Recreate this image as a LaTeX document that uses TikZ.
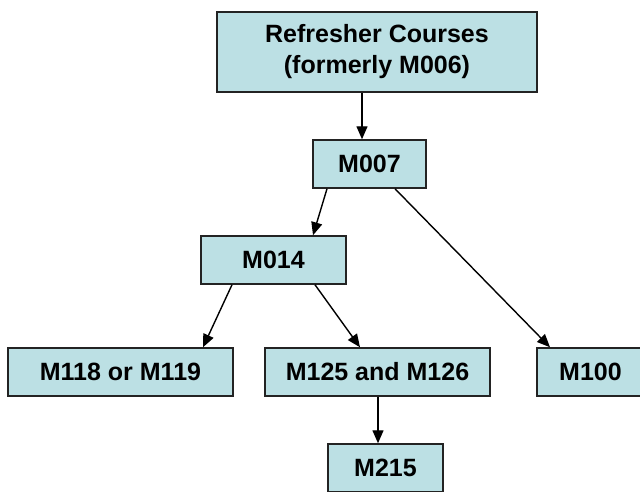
\documentclass[tikz,border=0pt]{standalone}
\usepackage{fontspec}
\setmainfont{Liberation Sans}
\usetikzlibrary{arrows.meta}
\definecolor{boxfill}{RGB}{188,224,228}
\definecolor{boxline}{RGB}{35,35,35}
\tikzset{
  box/.style={draw=boxline, line width=1.5pt, fill=boxfill, rectangle, inner sep=0pt,
    minimum height=48pt, align=center, font=\fontsize{25}{31}\selectfont\bfseries, text=black},
  arr/.style={draw=black, line width=1.4pt, -{Triangle[length=13pt,width=11pt]}}
}
\begin{document}
\begin{tikzpicture}[x=1pt,y=-1pt]
\useasboundingbox (0,0) rectangle (640,491);
\clip (0,0) rectangle (640,491);
\fill[white] (0,0) rectangle (640,491);
\node[box, minimum width=320pt, minimum height=80pt] (top) at (377,52) {Refresher Courses\\(formerly M006)};
\node[box, minimum width=113pt] (m007) at (369.5,164) {M007};
\node[box, minimum width=145pt] (m014) at (273.5,260) {M014};
\node[box, minimum width=225pt] (m118) at (120.5,372) {M118 or M119};
\node[box, minimum width=225pt] (m125) at (377.5,372) {M125 and M126};
\node[box, minimum width=107pt] (m100) at (590.5,372) {M100};
\node[box, minimum width=115pt] (m215) at (385.5,468) {M215};
\draw[arr] ([xshift=-15pt]top.south) -- ([xshift=-7.5pt]m007.north);
\draw[arr] ([xshift=-42.5pt]m007.south) -- ([xshift=39.5pt]m014.north);
\draw[arr] ([xshift=25.5pt]m007.south) -- ([xshift=-40.5pt]m100.north);
\draw[arr] ([xshift=-41.5pt]m014.south) -- ([xshift=82.5pt]m118.north);
\draw[arr] ([xshift=41.5pt]m014.south) -- ([xshift=-17.5pt]m125.north);
\draw[arr] ([xshift=0.5pt]m125.south) -- ([xshift=-7.5pt]m215.north);
\end{tikzpicture}
\end{document}
